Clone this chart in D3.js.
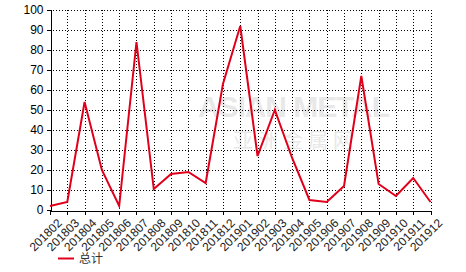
<!DOCTYPE html>
<html><head><meta charset="utf-8">
<script src="https://cdn.jsdelivr.net/npm/d3@7"></script>
<style>body{margin:0;background:#fff}svg{display:block}</style>
</head><body>
<svg id="c" width="466" height="272"></svg>
<script>
const months = ["201802","201803","201804","201805","201806","201807","201808","201809","201810","201811","201812","201901","201902","201903","201904","201905","201906","201907","201908","201909","201910","201911","201912"];
const values = [2,4,54,20,2,84,10.5,18,19,13.5,63,92,27,50,26,5,4,12,67,13,7,16,4];
const yTicks = [0,10,20,30,40,50,60,70,80,90,100];
const seriesName = "总计";

const svg = d3.select("#c");
const L = 50, R = 430.5, T = 10, B = 210;
const x = d3.scalePoint().domain(months).range([L, R]);
const y = d3.scaleLinear().domain([0,100]).range([B, T]);

// watermark
const wm = svg.append("g").attr("fill","#e8e8e8");
wm.append("text").attr("x",198).attr("y",117).attr("font-family","Arial, sans-serif").attr("font-size",30).attr("font-weight","bold")
  .attr("textLength",192).attr("lengthAdjust","spacing").text("ASIAN METAL");
wm.append("text").attr("x",233).attr("y",148).attr("font-family","'Noto Sans CJK SC', sans-serif").attr("font-size",20)
  .attr("textLength",120).attr("lengthAdjust","spacing").text("亚洲金属网");

// grid
const grid = svg.append("g").attr("stroke","#000").attr("stroke-width",1).attr("stroke-dasharray","1,2").attr("shape-rendering","crispEdges");
yTicks.forEach(t => { if (t>0) grid.append("line").attr("x1",L).attr("x2",R).attr("y1",Math.round(y(t))+0.5).attr("y2",Math.round(y(t))+0.5); });
months.forEach((m,i) => { if (i>0) grid.append("line").attr("x1",Math.round(x(m))+0.5).attr("x2",Math.round(x(m))+0.5).attr("y1",T).attr("y2",B); });

// axes
const yAxis = d3.axisLeft(y).tickValues(yTicks).tickSize(4).tickPadding(3);
const gy = svg.append("g").attr("transform",`translate(${L+0.5},0)`).call(yAxis);
gy.selectAll("text").attr("font-family","Arial, 'Liberation Sans', sans-serif").attr("font-size",12).attr("fill","#000");
gy.selectAll("line, path").attr("stroke","#000").attr("shape-rendering","crispEdges");

const xAxis = d3.axisBottom(x).tickSize(4).tickSizeOuter(0).tickPadding(2);
const gx = svg.append("g").attr("transform",`translate(0,${B+0.5})`).call(xAxis);
gx.selectAll("line, path").attr("stroke","#000").attr("shape-rendering","crispEdges");
gx.selectAll("text").attr("font-family","Arial, 'Liberation Sans', sans-serif").attr("font-size",12).attr("fill","#222")
  .attr("text-anchor","end").attr("dy","0.35em").attr("transform","translate(5,6) rotate(-45)");

// line
svg.append("path").datum(values).attr("fill","none").attr("stroke","#e0001b").attr("stroke-width",2).attr("stroke-linejoin","miter")
  .attr("d", d3.line().x((d,i)=>x(months[i])).y(d=>y(d)));

// legend
svg.append("line").attr("x1",58).attr("x2",74).attr("y1",258.5).attr("y2",258.5).attr("stroke","#e0001b").attr("stroke-width",2);
svg.append("text").attr("x",79).attr("y",263).attr("font-family","'Noto Sans CJK SC', sans-serif").attr("font-size",12).attr("fill","#333").text(seriesName);
</script>
</body></html>
